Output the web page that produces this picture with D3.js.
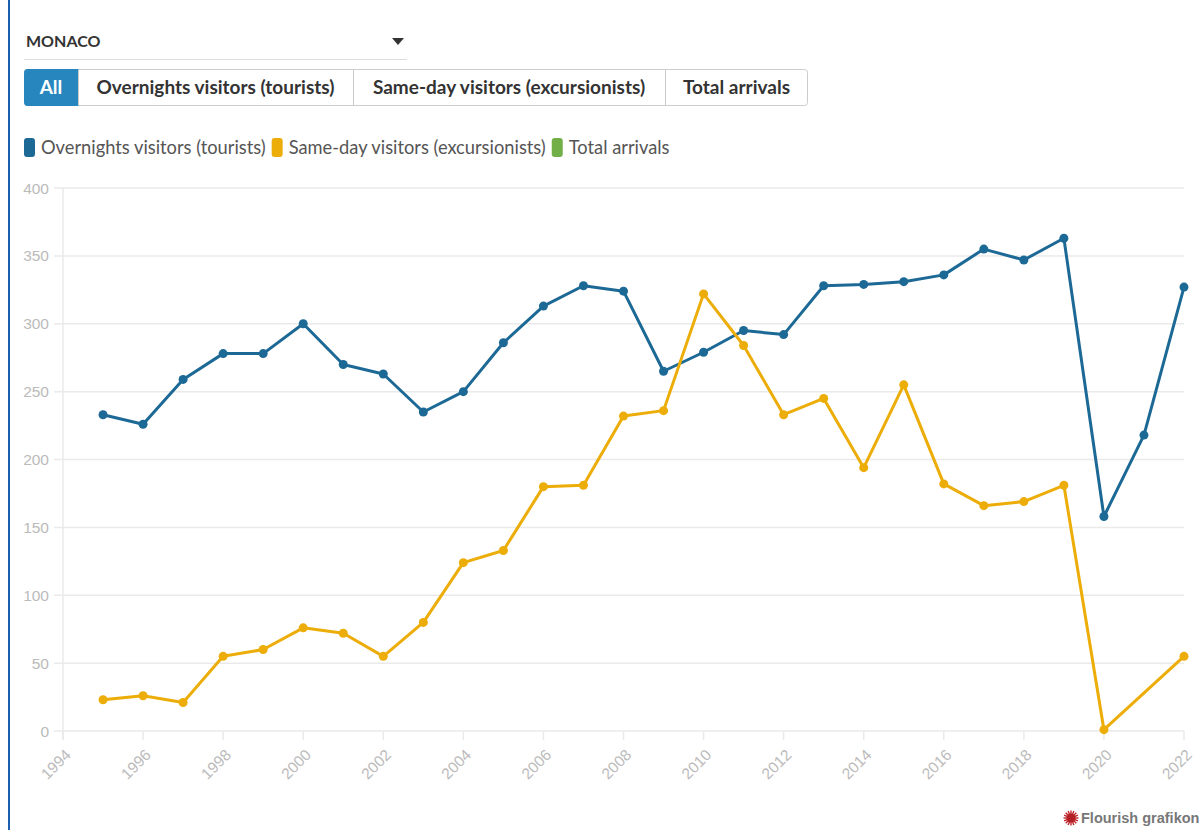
<!DOCTYPE html>
<html>
<head>
<meta charset="utf-8">
<script src="https://cdn.jsdelivr.net/npm/d3@7"></script>
<style>
  body { margin: 0; background: #fff; font-family: "Source Sans Pro", Lato, "Open Sans", sans-serif; }
  .frame { position: absolute; left: 8px; top: 0; width: 1.5px; height: 830px; background: #1c5fae; }
</style>
</head>
<body>
<div class="frame"></div>
<svg id="chart"></svg>
<script>
// data
const years = d3.range(1995, 2023);
const overnights = [233, 226, 259, 278, 278, 300, 270, 263, 235, 250, 286, 313, 328, 324, 265, 279, 295, 292, 328, 329, 331, 336, 355, 347, 363, 158, 218, 327];
const sameDay = [23, 26, 21, 55, 60, 76, 72, 55, 80, 124, 133, 180, 181, 232, 236, 322, 284, 233, 245, 194, 255, 182, 166, 169, 181, 1, null, 55];
const seriesNames = ["Overnights visitors (tourists)", "Same-day visitors (excursionists)", "Total arrivals"];
const seriesColors = ["#1D6996", "#EDAD08", "#73AF48"];
const buttonLabels = ["All", "Overnights visitors (tourists)", "Same-day visitors (excursionists)", "Total arrivals"];
const yTicks = [0, 50, 100, 150, 200, 250, 300, 350, 400];
const xTicks = d3.range(1994, 2023, 2);

const width = 1204, height = 830;
const margin = { top: 188, right: 20, bottom: 99, left: 63 };

const svg = d3.select("#chart")
  .attr("width", width)
  .attr("height", height);

const uiFont = "'Source Sans Pro', Lato, 'Open Sans', sans-serif";
const axisFont = "'Liberation Sans', Arial, sans-serif";

// dropdown
svg.append("text")
  .attr("x", 26).attr("y", 47)
  .attr("font-family", uiFont).attr("font-weight", "bold")
  .attr("font-size", 16).attr("fill", "#333")
  .text("MONACO");
svg.append("path")
  .attr("d", "M392,38 L404,38 L398,45 Z")
  .attr("fill", "#333");
svg.append("line")
  .attr("x1", 24).attr("x2", 407).attr("y1", 59.5).attr("y2", 59.5)
  .attr("stroke", "#ddd");

// buttons
const btnX = [24, 78, 353, 665, 808];
const btns = svg.append("g");
btns.append("rect")
  .attr("x", 24.5).attr("y", 69.5).attr("width", 783).attr("height", 36)
  .attr("rx", 3).attr("fill", "#fff").attr("stroke", "#ccc");
buttonLabels.forEach((label, i) => {
  const x0 = btnX[i], x1 = btnX[i + 1];
  if (i === 0) {
    btns.append("path")
      .attr("d", `M${x0 + 3},69.5 H${x1} V105.5 H${x0 + 3} Q${x0 + 0.5},105.5 ${x0 + 0.5},102.5 V72.5 Q${x0 + 0.5},69.5 ${x0 + 3},69.5 Z`)
      .attr("fill", "#2886be").attr("stroke", "#2886be");
  } else {
    btns.append("line")
      .attr("x1", x0 + 0.5).attr("x2", x0 + 0.5).attr("y1", 70).attr("y2", 105)
      .attr("stroke", "#ccc");
  }
  btns.append("text")
    .attr("x", (x0 + x1) / 2).attr("y", 93.5)
    .attr("text-anchor", "middle")
    .attr("font-family", uiFont).attr("font-weight", "bold")
    .attr("font-size", 19)
    .attr("fill", i === 0 ? "#fff" : "#333")
    .text(label);
});

// legend
const legend = svg.append("g").attr("font-family", uiFont).attr("font-size", 18.3);
let lx = 24;
seriesNames.forEach((name, i) => {
  legend.append("rect")
    .attr("x", lx).attr("y", 138).attr("width", 11).attr("height", 19)
    .attr("rx", 3).attr("fill", seriesColors[i]);
  const t = legend.append("text")
    .attr("x", lx + 17).attr("y", 154)
    .attr("fill", "#555")
    .text(name);
  lx += 17 + t.node().getComputedTextLength() + 6;
});

// scales
const x = d3.scaleLinear()
  .domain([1994, 2022])
  .range([margin.left, width - margin.right]);
const y = d3.scaleLinear()
  .domain([0, 400])
  .range([height - margin.bottom, margin.top]);

// grid
svg.append("g")
  .selectAll("line")
  .data(yTicks)
  .join("line")
  .attr("x1", margin.left - 9).attr("x2", width - margin.right)
  .attr("y1", d => y(d)).attr("y2", d => y(d))
  .attr("stroke", "#eaeaea").attr("stroke-width", 1.5);

svg.append("line")
  .attr("x1", margin.left).attr("x2", margin.left)
  .attr("y1", y(400)).attr("y2", y(0) + 9)
  .attr("stroke", "#eaeaea").attr("stroke-width", 1.5);

// y labels
svg.append("g")
  .attr("font-family", axisFont)
  .attr("font-size", 15.5).attr("fill", "#bbb")
  .attr("text-anchor", "end")
  .selectAll("text")
  .data(yTicks)
  .join("text")
  .attr("x", margin.left - 14)
  .attr("y", d => y(d) + 5.5)
  .text(d => d);

// x ticks + rotated labels
const xg = svg.append("g");
xg.selectAll("line")
  .data(xTicks)
  .join("line")
  .attr("x1", d => x(d)).attr("x2", d => x(d))
  .attr("y1", y(0)).attr("y2", y(0) + 9)
  .attr("stroke", "#eaeaea").attr("stroke-width", 1.5);
xg.selectAll("text")
  .data(xTicks)
  .join("text")
  .attr("font-family", axisFont)
  .attr("font-size", 15.5).attr("fill", "#bbb")
  .attr("text-anchor", "end")
  .attr("dy", "0.35em")
  .attr("transform", d => `translate(${x(d) + 5},${y(0) + 21}) rotate(-45)`)
  .text(d => d);

// lines
const series = [
  { name: seriesNames[0], color: seriesColors[0], values: overnights },
  { name: seriesNames[1], color: seriesColors[1], values: sameDay }
];
const line = d3.line()
  .x(d => x(d.year))
  .y(d => y(d.value));

series.forEach(s => {
  const pts = years.map((yr, i) => ({ year: yr, value: s.values[i] })).filter(d => d.value != null);
  svg.append("path")
    .datum(pts)
    .attr("fill", "none")
    .attr("stroke", s.color)
    .attr("stroke-width", 3)
    .attr("stroke-linejoin", "round")
    .attr("d", line);
  svg.append("g")
    .selectAll("circle")
    .data(pts)
    .join("circle")
    .attr("cx", d => x(d.year))
    .attr("cy", d => y(d.value))
    .attr("r", 4.5)
    .attr("fill", s.color);
});

// flourish credit
const credit = svg.append("g").attr("transform", "translate(1071,818)");
const rays = d3.range(16);
credit.selectAll("line")
  .data(rays)
  .join("line")
  .attr("x1", 0).attr("y1", 0)
  .attr("x2", d => 7.5 * Math.cos(d * Math.PI / 8))
  .attr("y2", d => 7.5 * Math.sin(d * Math.PI / 8))
  .attr("stroke", "#c0262b").attr("stroke-width", 1.4);
credit.append("circle").attr("r", 4.5).attr("fill", "#b21f24");
credit.append("text")
  .attr("x", 10).attr("y", 5)
  .attr("font-family", axisFont)
  .attr("font-weight", "bold").attr("font-size", 14.5)
  .attr("fill", "#777")
  .text("Flourish grafikon");
</script>
</body>
</html>
